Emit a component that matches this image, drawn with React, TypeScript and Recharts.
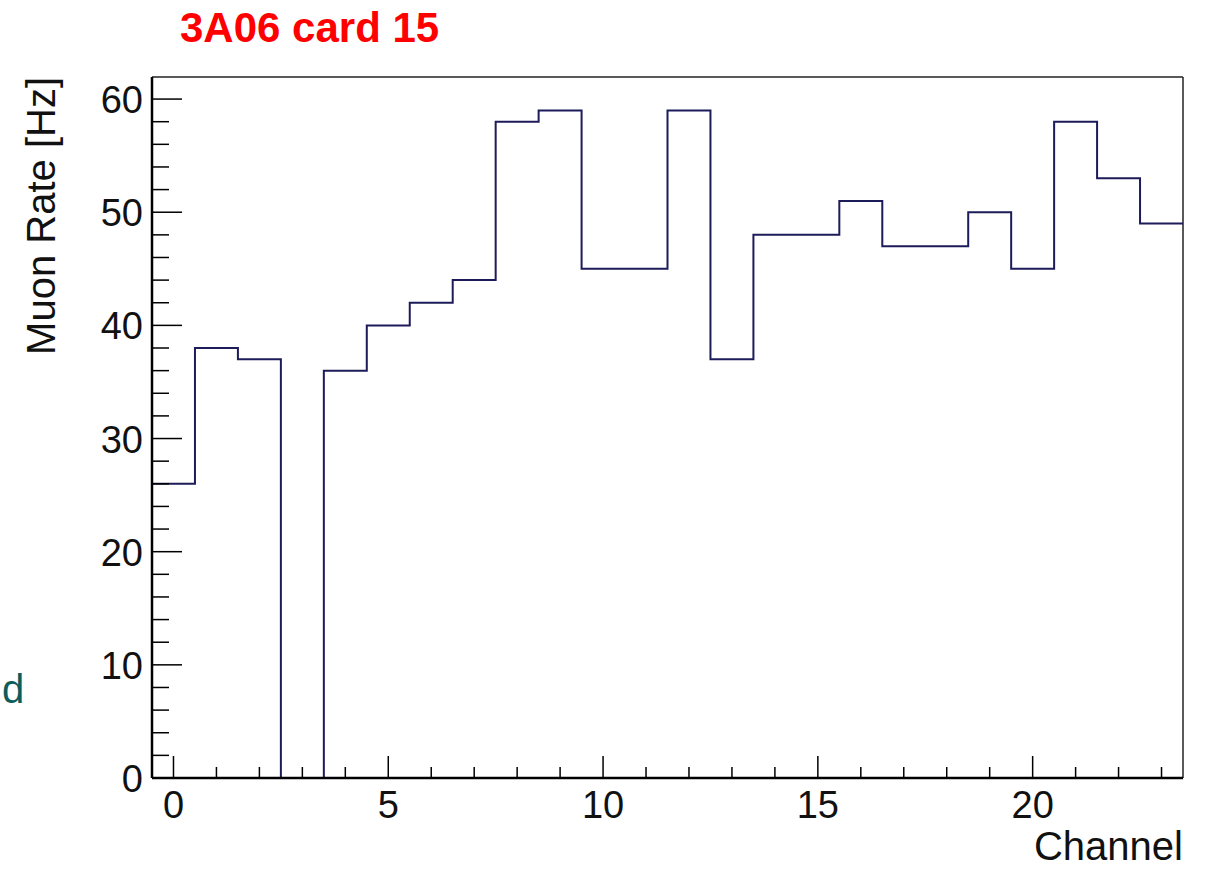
import { ComposedChart, Line, XAxis, YAxis, ReferenceLine } from "recharts";

// histogram contents, one value per channel
const channels = [0, 1, 2, 3, 4, 5, 6, 7, 8, 9, 10, 11, 12, 13, 14, 15, 16, 17, 18, 19, 20, 21, 22, 23];
const rates = [26, 38, 37, 0, 36, 40, 42, 44, 58, 59, 45, 45, 59, 37, 48, 48, 51, 47, 47, 50, 45, 58, 53, 49];

const xTicks = channels;
const xLabels = [0, 5, 10, 15, 20];
const yTicks = [0, 2, 4, 6, 8, 10, 12, 14, 16, 18, 20, 22, 24, 26, 28, 30, 32, 34, 36, 38, 40, 42, 44, 46, 48, 50, 52, 54, 56, 58, 60];
const yLabels = [0, 10, 20, 30, 40, 50, 60];
const yMax = 61.95;

const FONT = '"Liberation Sans", Arial, Helvetica, sans-serif';
const HIST = "#1e1b5a";

// bin edges: each bin starts at channel - 0.5, last edge closes the final bin
const histData = [
  ...channels.map((c, i) => ({ edge: c - 0.5, rate: rates[i] })),
  { edge: channels[channels.length - 1] + 0.5, rate: rates[rates.length - 1] },
];

function XTick(props: any) {
  const { x, y, payload } = props;
  const major = xLabels.includes(payload.value);
  return (
    <g>
      <line x1={x} x2={x} y1={y} y2={y - (major ? 22 : 11)} stroke="#000" strokeWidth={1.5} />
      {major && (
        <text x={x} y={y + 40} textAnchor="middle" fontSize={38} fontFamily={FONT} fill="#111">
          {payload.value}
        </text>
      )}
    </g>
  );
}

function YTick(props: any) {
  const { x, y, payload } = props;
  const major = yLabels.includes(payload.value);
  return (
    <g>
      <line x1={x} x2={x + (major ? 30 : 17)} y1={y} y2={y} stroke="#000" strokeWidth={1.5} />
      {major && (
        <text x={x - 9} y={y + 14} textAnchor="end" fontSize={38} fontFamily={FONT} fill="#111">
          {payload.value}
        </text>
      )}
    </g>
  );
}

export default function App() {
  return (
    <div style={{ position: "absolute", left: 0, top: 0, width: 1210, height: 869, background: "#fff" }}>
      <ComposedChart
        width={1210}
        height={869}
        data={histData}
        margin={{ top: 77, right: 27, bottom: 0, left: 0 }}
      >
        <XAxis
          type="number"
          dataKey="edge"
          domain={[-0.5, 23.5]}
          ticks={xTicks}
          interval={0}
          allowDataOverflow
          tickLine={false}
          tickSize={0}
          tickMargin={0}
          tick={(p: any) => <XTick {...p} />}
          axisLine={{ stroke: "#000", strokeWidth: 2.5 }}
          height={91}
          label={{
            content: ({ viewBox }: any) => (
              <text
                x={viewBox.x + viewBox.width}
                y={viewBox.y + viewBox.height - 9}
                textAnchor="end"
                fontSize={40}
                fontFamily={FONT}
                fill="#111"
              >
                Channel
              </text>
            ),
          }}
        />
        <YAxis
          type="number"
          domain={[0, yMax]}
          ticks={yTicks}
          interval={0}
          allowDataOverflow
          tickLine={false}
          tickSize={0}
          tickMargin={0}
          tick={(p: any) => <YTick {...p} />}
          axisLine={{ stroke: "#000", strokeWidth: 2.5 }}
          width={152}
          label={{
            content: ({ viewBox }: any) => (
              <text
                x={41}
                y={viewBox.y}
                transform={`rotate(-90, 41, ${viewBox.y})`}
                textAnchor="end"
                dominantBaseline="central"
                fontSize={40}
                fontFamily={FONT}
                fill="#111"
              >
                Muon Rate [Hz]
              </text>
            ),
          }}
        />
        <ReferenceLine y={yMax} stroke="#222" strokeWidth={1.5} />
        <ReferenceLine x={23.5} stroke="#222" strokeWidth={1.5} />
        <Line
          type="stepAfter"
          dataKey="rate"
          stroke={HIST}
          strokeWidth={2}
          dot={false}
          activeDot={false}
          isAnimationActive={false}
        />
      </ComposedChart>
      <svg
        width={1210}
        height={869}
        style={{ position: "absolute", left: 0, top: 0, pointerEvents: "none" }}
      >
        <text x={180} y={42} fontSize={42} fontWeight="bold" fontFamily={FONT} fill="#ff0000">
          3A06 card 15
        </text>
        <text x={2} y={703} fontSize={40} fontFamily={FONT} fill="#0b5c5c">
          d
        </text>
      </svg>
    </div>
  );
}
